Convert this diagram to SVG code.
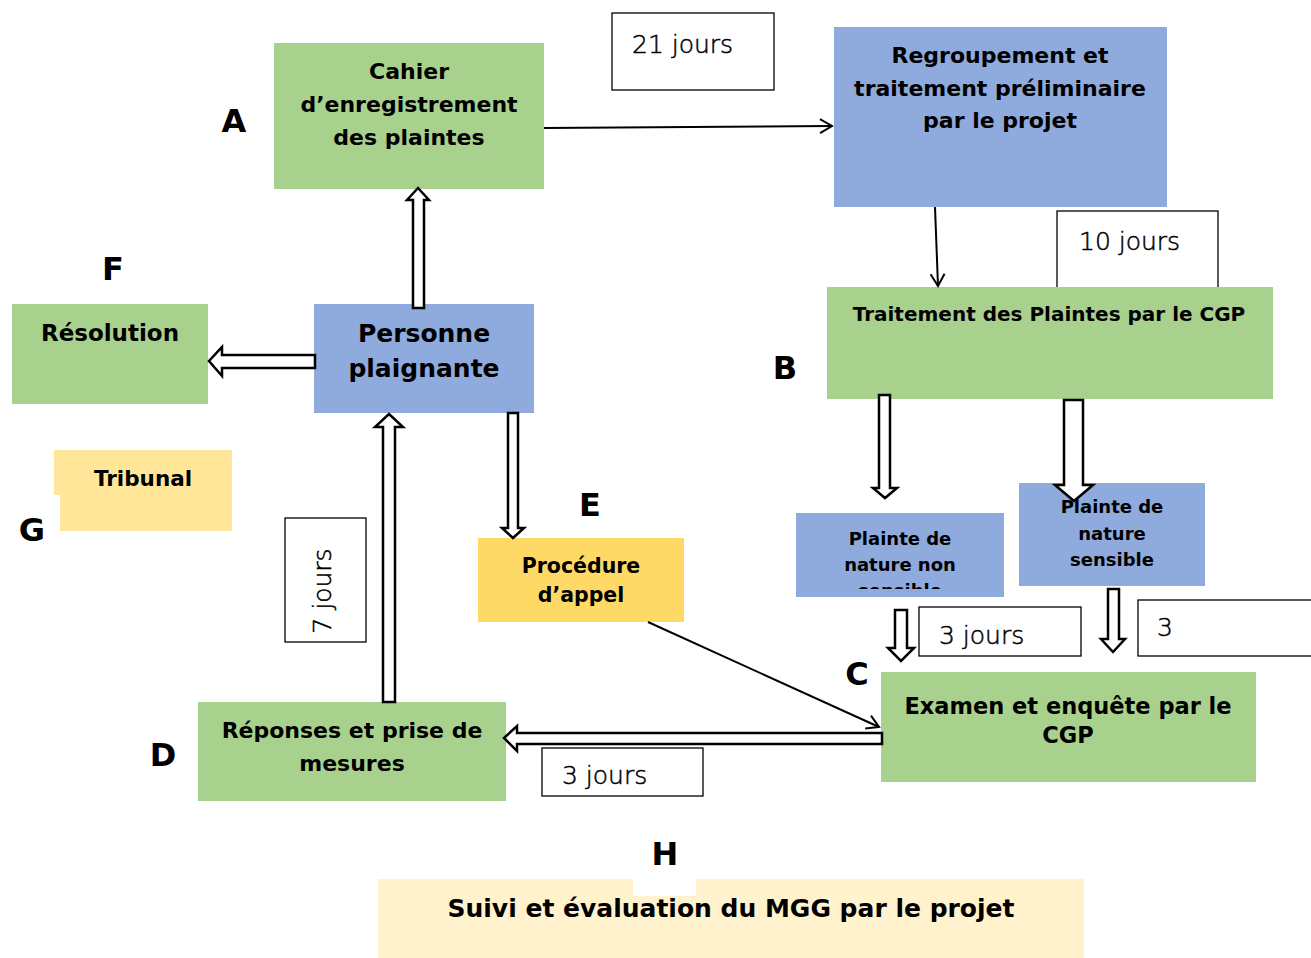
<svg xmlns="http://www.w3.org/2000/svg" width="1311" height="958" viewBox="0 0 1311 958">
<style>
.green{fill:#A9D18E}
.blue{fill:#8FAADC}
.t{font-family:"DejaVu Sans","Liberation Sans",sans-serif;font-weight:bold;fill:#000;text-anchor:middle}
.lab{font-family:"DejaVu Sans","Liberation Sans",sans-serif;font-weight:bold;font-size:32px;fill:#000;text-anchor:middle}
.box{fill:#fff;stroke:#000;stroke-width:1.3}
.n{font-family:"DejaVu Sans","Liberation Sans",sans-serif;font-weight:200;font-size:25px;fill:#000;stroke:#000;stroke-width:0.5}
.blk{fill:#fff;stroke:#000;stroke-width:2.5;stroke-linejoin:miter}
.ln{fill:none;stroke:#000;stroke-width:2}
</style>
<defs>
<marker id="v" markerWidth="16" markerHeight="16" refX="14" refY="8" orient="auto" markerUnits="userSpaceOnUse">
<path d="M2,1 L14,8 L2,15" fill="none" stroke="#000" stroke-width="2"/>
</marker>
<clipPath id="clipNS"><rect x="796" y="513" width="208" height="76"/></clipPath>
</defs>

<rect width="1311" height="958" fill="#fff"/>

<g id="labels">
<text class="lab" x="234" y="132">A</text>
<text class="lab" x="785" y="379">B</text>
<text class="lab" x="857" y="685">C</text>
<text class="lab" x="163" y="766">D</text>
<text class="lab" x="590" y="516">E</text>
<text class="lab" x="113" y="280">F</text>
<text class="lab" x="32" y="541">G</text>
<text class="lab" x="665" y="865">H</text>
</g>

<g id="node-cahier">
<rect class="green" x="274" y="43" width="270" height="146"/>
<text class="t" font-size="22" x="409" y="79">Cahier</text>
<text class="t" font-size="22" x="409" y="112">d’enregistrement</text>
<text class="t" font-size="22" x="409" y="145">des plaintes</text>
</g>

<g id="node-21jours">
<rect class="box" x="612" y="13" width="162" height="77"/>
<text class="n" x="632" y="53">21 jours</text>
</g>

<g id="node-regroupement">
<rect class="blue" x="834" y="27" width="333" height="180"/>
<text class="t" font-size="22" x="1000" y="63">Regroupement et</text>
<text class="t" font-size="22" x="1000" y="96">traitement préliminaire</text>
<text class="t" font-size="22" x="1000" y="128">par le projet</text>
</g>

<g id="node-10jours">
<rect class="box" x="1057" y="211" width="161" height="77"/>
<text class="n" x="1079" y="250">10 jours</text>
</g>

<g id="node-traitement">
<rect class="green" x="827" y="287" width="446" height="112"/>
<text class="t" font-size="20" x="1049" y="321">Traitement des Plaintes par le CGP</text>
</g>

<g id="node-nonsensible">
<rect class="blue" x="796" y="513" width="208" height="84"/>
<g clip-path="url(#clipNS)">
<text class="t" font-size="18" x="900" y="545">Plainte de</text>
<text class="t" font-size="18" x="900" y="571">nature non</text>
<text class="t" font-size="18" x="900" y="597">sensible</text>
</g>
</g>

<g id="node-sensible">
<rect class="blue" x="1019" y="483" width="186" height="103"/>
<text class="t" font-size="18" x="1112" y="513">Plainte de</text>
<text class="t" font-size="18" x="1112" y="540">nature</text>
<text class="t" font-size="18" x="1112" y="566">sensible</text>
</g>

<g id="node-3jours-a">
<rect class="box" x="919" y="607" width="162" height="49"/>
<text class="n" x="939" y="644">3 jours</text>
</g>

<g id="node-3-b">
<rect class="box" x="1138" y="600" width="180" height="56"/>
<text class="n" x="1157" y="636">3</text>
</g>

<g id="node-examen">
<rect class="green" x="881" y="672" width="375" height="110"/>
<text class="t" font-size="22.5" x="1068" y="714">Examen et enquête par le</text>
<text class="t" font-size="22.5" x="1068" y="743">CGP</text>
</g>

<g id="node-3jours-c">
<rect class="box" x="542" y="748" width="161" height="48"/>
<text class="n" x="562" y="784">3 jours</text>
</g>

<g id="node-reponses">
<rect class="green" x="198" y="702" width="308" height="99"/>
<text class="t" font-size="22" x="352" y="738">Réponses et prise de</text>
<text class="t" font-size="22" x="352" y="771">mesures</text>
</g>

<g id="node-7jours">
<rect class="box" x="285" y="518" width="81" height="124"/>
<text class="n" font-size="23" text-anchor="middle" transform="translate(331 591) rotate(-90)">7 jours</text>
</g>

<g id="node-personne">
<rect class="blue" x="314" y="304" width="220" height="109"/>
<text class="t" font-size="25" x="424" y="342">Personne</text>
<text class="t" font-size="25" x="424" y="377">plaignante</text>
</g>

<g id="node-resolution">
<rect class="green" x="12" y="304" width="196" height="100"/>
<text class="t" font-size="23" x="110" y="341">Résolution</text>
</g>

<g id="node-tribunal">
<path d="M54,450 H232 V531 H60 V495 H54 Z" fill="#FFE699"/>
<text class="t" font-size="21.5" x="143" y="486">Tribunal</text>
</g>

<g id="node-procedure">
<rect x="478" y="538" width="206" height="84" fill="#FFD966"/>
<text class="t" font-size="20.5" x="581" y="573">Procédure</text>
<text class="t" font-size="20.5" x="581" y="602">d’appel</text>
</g>

<g id="node-suivi">
<path d="M378,879 H633 V896 H696 V879 H1084 V958 H378 Z" fill="#FFF2CC"/>
<text class="t" font-size="25" x="731" y="917">Suivi et évaluation du MGG par le projet</text>
</g>

<g id="connectors">
<line class="ln" x1="544" y1="128" x2="832" y2="126" marker-end="url(#v)"/>
<line class="ln" x1="935" y1="207" x2="938" y2="286" marker-end="url(#v)"/>
<line class="ln" x1="648" y1="622" x2="879" y2="727" marker-end="url(#v)"/>
<polygon class="blk" points="413,308 413,200 407,200 418,188 429,200 424,200 424,308"/>
<polygon class="blk" points="315,355 222,355 222,347 209,361 222,376 222,368 315,368"/>
<polygon class="blk" points="383,702 383,427 375,427 389,414 403,427 395,427 395,702"/>
<polygon class="blk" points="508,413 508,528 502,528 513,538 524,528 518,528 518,413"/>
<polygon class="blk" points="879,395 879,488 873,488 885,498 897,488 890,488 890,395"/>
<polygon class="blk" points="1064,400 1064,485 1055,485 1074,501 1093,485 1083,485 1083,400"/>
<polygon class="blk" points="895,610 895,648 888,648 901,661 914,648 907,648 907,610"/>
<polygon class="blk" points="1108,589 1108,639 1101,639 1113,652 1125,639 1119,639 1119,589"/>
<polygon class="blk" points="882,733 517,733 517,726 504,738 517,751 517,744 882,744"/>
</g>
</svg>
